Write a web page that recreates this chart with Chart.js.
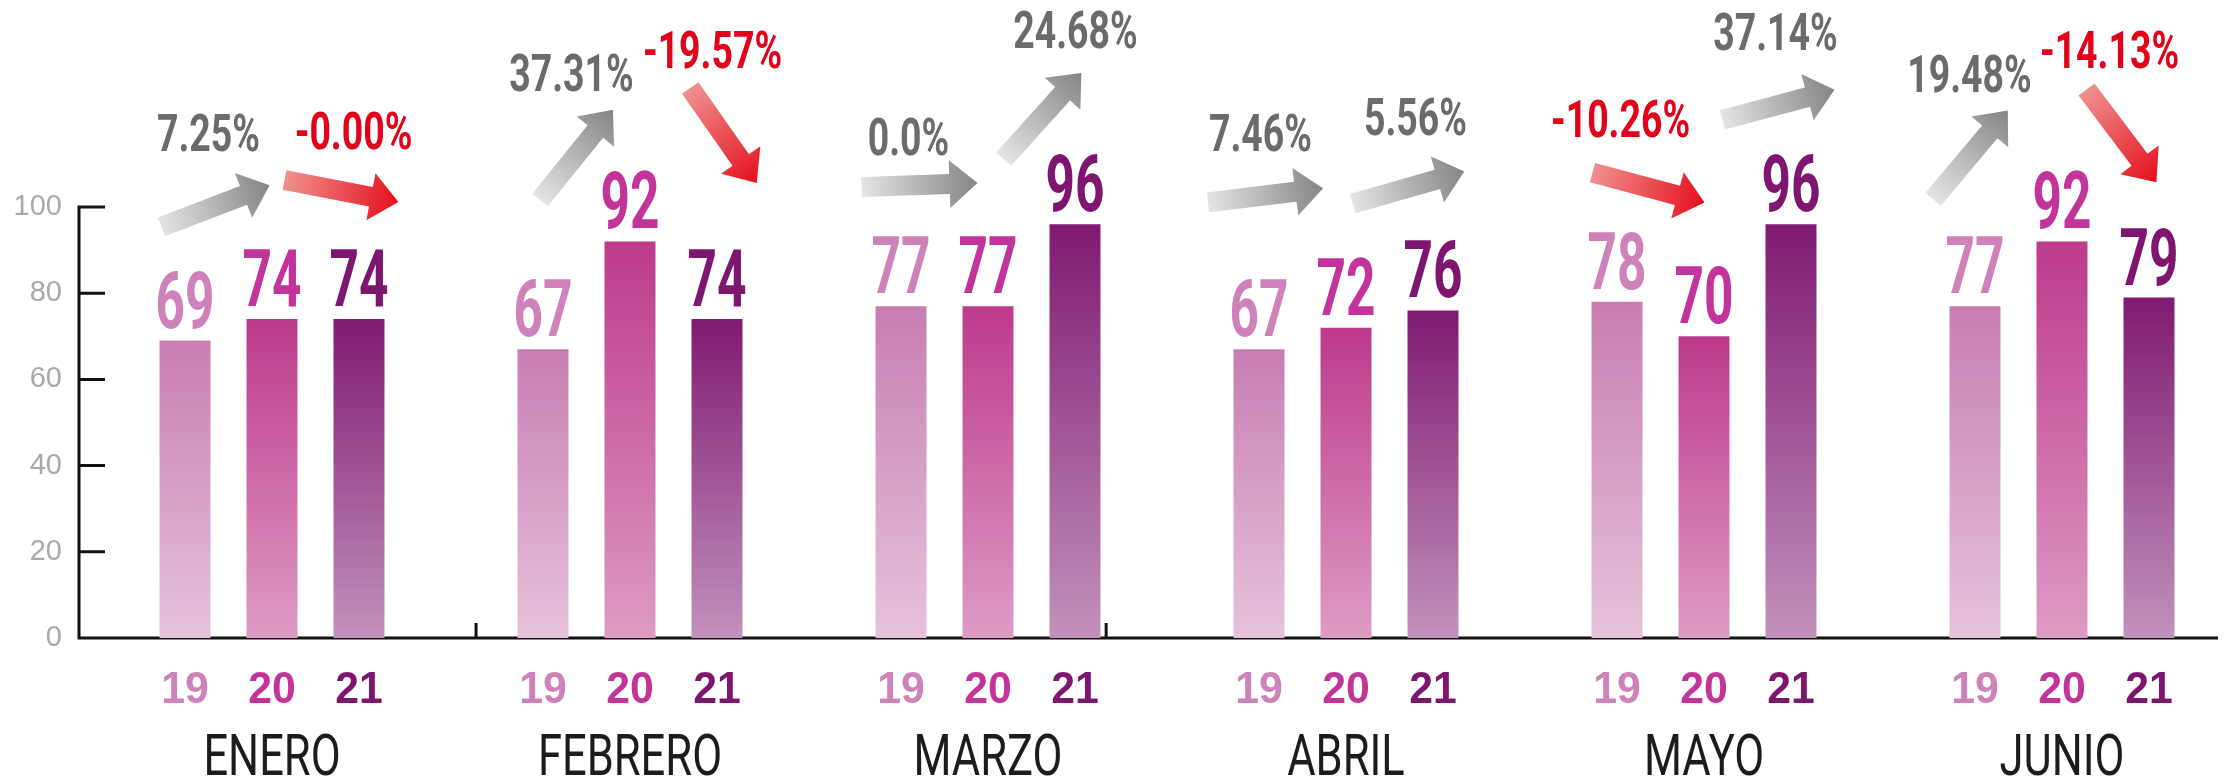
<!DOCTYPE html>
<html>
<head>
<meta charset="utf-8">
<script src="https://cdn.jsdelivr.net/npm/chart.js@4.4.1/dist/chart.umd.min.js"></script>
<style>
  html, body { margin: 0; padding: 0; background: #fff; overflow: hidden; }
  canvas { display: block; }
</style>
</head>
<body>
<canvas id="chart" width="2246" height="780"></canvas>
<script>
const months = ["ENERO", "FEBRERO", "MARZO", "ABRIL", "MAYO", "JUNIO"];
const years = ["19", "20", "21"];
const values19 = [69, 67, 77, 67, 78, 77];
const values20 = [74, 92, 77, 72, 70, 92];
const values21 = [74, 74, 96, 76, 96, 79];
// change 19->20 and 20->21, as printed on the chart
const changeLabels = [
  ["7.25%", "-0.00%"],
  ["37.31%", "-19.57%"],
  ["0.0%", "24.68%"],
  ["7.46%", "5.56%"],
  ["-10.26%", "37.14%"],
  ["19.48%", "-14.13%"],
];
const yTicks = [0, 20, 40, 60, 80, 100];

// arrow placement: [shift from gap between bars (px), centre (y units), tilt (deg), label shift (px), label centre (y units)]
const arrowLayout = [
  [-13, 100.2, -21, -7, 117.2], [26, 103.7, 11, 12, 117.6],
  [-10, 112.1, -51, -5, 131.1], [50, 116.6, 55, -11, 136.4],
  [-25, 105.1, -2, -11, 116.2], [11, 121.1, -48, 33, 141.1],
  [-37, 102.7, -7, -5, 117.2], [19, 104.5, -16, 7, 120.9],
  [-12, 104.5, 15, -28, 120.4], [31, 123.7, -15, -3, 140.6],
  [-48, 112.1, -50, -1, 130.9], [16, 116.5, 53, -12, 136.4],
];

const barTop = ["#c87db2", "#bd3a8b", "#801a72"];
const barBottom = ["#e6c2dc", "#de9bc5", "#c291bb"];
const textColors = ["#cf82ba", "#c2349a", "#7e1670"];

function barGradient(i) {
  return (c) => {
    const chart = c.chart;
    if (!chart.chartArea || c.raw === undefined) return barTop[i];
    const y = chart.scales.y;
    const g = chart.ctx.createLinearGradient(0, y.getPixelForValue(c.raw), 0, y.getPixelForValue(0));
    g.addColorStop(0, barTop[i]);
    g.addColorStop(1, barBottom[i]);
    return g;
  };
}

function squeezedText(ctx, text, x, y, squeeze) {
  ctx.save();
  ctx.translate(x, y);
  ctx.scale(squeeze, 1);
  ctx.fillText(text, 0, 0);
  ctx.restore();
}

function drawArrow(ctx, cx, cy, tilt, down) {
  const len = 116, shaft = 20, headLen = 28, headW = 48;
  ctx.save();
  ctx.translate(cx, cy);
  ctx.rotate(tilt * Math.PI / 180);
  const g = ctx.createLinearGradient(-len / 2, 0, len / 2, 0);
  g.addColorStop(0, down ? "#f09090" : "#e4e4e4");
  g.addColorStop(1, down ? "#e5101c" : "#858585");
  ctx.fillStyle = g;
  ctx.beginPath();
  ctx.moveTo(-len / 2, -shaft / 2);
  ctx.lineTo(len / 2 - headLen, -shaft / 2);
  ctx.lineTo(len / 2 - headLen, -headW / 2);
  ctx.lineTo(len / 2, 0);
  ctx.lineTo(len / 2 - headLen, headW / 2);
  ctx.lineTo(len / 2 - headLen, shaft / 2);
  ctx.lineTo(-len / 2, shaft / 2);
  ctx.closePath();
  ctx.fill();
  ctx.restore();
}

const decorations = {
  id: "decorations",
  beforeDatasetsDraw(chart) {
    const { ctx, chartArea, scales: { x, y } } = chart;
    const axisX = chartArea.left - 14;
    const base = y.getPixelForValue(0);
    ctx.save();
    ctx.strokeStyle = "#111";
    ctx.lineWidth = 3;
    ctx.beginPath();
    ctx.moveTo(axisX, y.getPixelForValue(100) - 1.5);
    ctx.lineTo(axisX, base);
    ctx.lineTo(chart.width - 28, base);
    yTicks.forEach((v) => {
      ctx.moveTo(axisX, y.getPixelForValue(v));
      ctx.lineTo(axisX + 26, y.getPixelForValue(v));
    });
    // two little marks left on the baseline
    [0.57, 2.33].forEach((v) => {
      ctx.moveTo(x.getPixelForValue(v), base);
      ctx.lineTo(x.getPixelForValue(v), base - 15);
    });
    ctx.stroke();
    ctx.restore();
  },
  afterDatasetsDraw(chart) {
    const { ctx, scales: { x, y } } = chart;
    const base = y.getPixelForValue(0);
    ctx.save();
    ctx.textAlign = "center";
    ctx.textBaseline = "alphabetic";

    // values over bars and year labels under them
    chart.data.datasets.forEach((ds, i) => {
      chart.getDatasetMeta(i).data.forEach((el, j) => {
        ctx.fillStyle = textColors[i];
        ctx.font = "bold 79px Roboto";
        squeezedText(ctx, String(ds.data[j]), el.x, el.y - 13, 0.65);
        ctx.font = "bold 45px 'Liberation Sans', Arial";
        squeezedText(ctx, ds.label, el.x, base + 65, 0.95);
      });
    });

    // month names
    ctx.fillStyle = "#1c1c1c";
    ctx.font = "58px Roboto";
    months.forEach((m, j) => squeezedText(ctx, m, x.getPixelForValue(j), base + 137, 0.75));

    // change arrows and percentages
    months.forEach((m, j) => {
      for (let k = 0; k < 2; k++) {
        const from = chart.getDatasetMeta(k).data[j];
        const to = chart.getDatasetMeta(k + 1).data[j];
        const [shift, level, tilt, labelShift, labelLevel] = arrowLayout[j * 2 + k];
        const text = changeLabels[j][k];
        const down = text.startsWith("-");
        const cx = (from.x + to.x) / 2 + shift;
        drawArrow(ctx, cx, y.getPixelForValue(level), tilt, down);
        ctx.fillStyle = down ? "#e2001a" : "#6b6b6b";
        ctx.font = "bold 52px Roboto";
        squeezedText(ctx, text, cx + labelShift, y.getPixelForValue(labelLevel) + 18, 0.72);
      }
    });
    ctx.restore();
  },
};

new Chart(document.getElementById("chart"), {
  type: "bar",
  data: {
    labels: months,
    datasets: [
      { label: years[0], data: values19, backgroundColor: barGradient(0) },
      { label: years[1], data: values20, backgroundColor: barGradient(1) },
      { label: years[2], data: values21, backgroundColor: barGradient(2) },
    ],
  },
  options: {
    responsive: false,
    animation: false,
    categoryPercentage: 0.729,
    barPercentage: 0.586,
    layout: { padding: { left: 14, right: 5, top: 207, bottom: 142 } },
    plugins: {
      legend: { display: false },
      tooltip: { enabled: false },
    },
    scales: {
      x: { display: false },
      y: {
        min: 0,
        max: 100,
        afterBuildTicks: (scale) => { scale.ticks = yTicks.map((v) => ({ value: v })); },
        afterFit: (scale) => { scale.width = 79; },
        grid: { display: false, drawTicks: false },
        border: { display: false },
        ticks: {
          padding: 31,
          color: "#a9a9a9",
          font: { family: "'Liberation Sans', Arial", size: 29 },
        },
      },
    },
  },
  plugins: [decorations],
});
</script>
</body>
</html>
